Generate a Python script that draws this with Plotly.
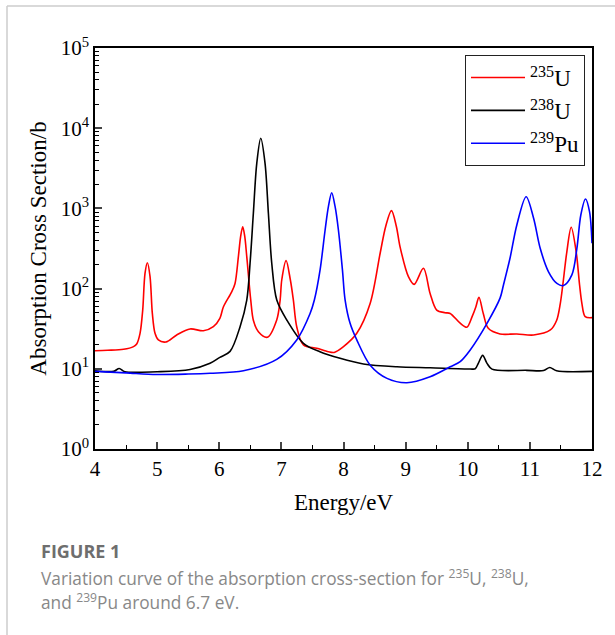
import plotly.graph_objects as go

# ---------------- data ----------------
u235_energy = [4.0, 4.2, 4.46, 4.62, 4.671, 4.725, 4.768, 4.805, 4.843, 4.886, 4.923, 4.966,
               5.02, 5.143, 5.315, 5.53, 5.744, 5.905, 6.01, 6.066, 6.2, 6.254, 6.308, 6.345,
               6.378, 6.41, 6.443, 6.507, 6.55, 6.63, 6.775, 6.925, 6.98, 7.006, 7.076,
               7.145, 7.193, 7.247, 7.355, 7.57, 7.757, 7.85, 8.0, 8.214, 8.43, 8.59, 8.68,
               8.772, 8.85, 8.91, 9.045, 9.137, 9.287, 9.394, 9.5, 9.636, 9.717, 9.878,
               9.985, 10.07, 10.13, 10.18, 10.25, 10.33, 10.52, 10.79, 11.06, 11.33, 11.43,
               11.49, 11.53, 11.595, 11.665, 11.745, 11.8, 11.837, 11.89, 12.0]
u235_sigma = [16.8, 17.0, 17.5, 18.9, 20.4, 27.7, 54, 155, 210, 141, 49, 27.7,
              22.9, 21.6, 26.4, 31.4, 29.8, 33.5, 42.6, 59, 91, 116, 250, 450,
              591, 450, 250, 72, 40, 29, 24.7, 40.6, 72, 128, 223,
              128, 72, 33.5, 19.8, 18, 16.3, 16.0, 18.9, 27.7, 65.6, 276, 600,
              937, 600, 333, 141, 113, 179, 87, 54, 50, 49, 37,
              33, 44.7, 59, 78, 49, 32, 27.2, 27.2, 26.4, 30.5, 40,
              65.6, 111, 288, 581, 288, 111, 65.6, 44.7, 43.4]

u238_energy = [4.0, 4.3, 4.39, 4.48, 5.0, 5.53, 5.852, 6.01, 6.174, 6.335, 6.443, 6.496,
               6.549, 6.604, 6.668, 6.737, 6.791, 6.845, 6.926, 7.087, 7.355, 7.62, 7.945,
               8.32, 8.86, 9.394, 10.04, 10.12, 10.17, 10.24, 10.31, 10.39, 10.95, 11.22,
               11.32, 11.43, 12.0]
u238_sigma = [9.47, 9.3, 10.1, 9.2, 9.2, 9.8, 11.7, 13.9, 16.5, 33.5, 72, 207,
              869, 3650, 7480, 3650, 869, 207, 72, 40.6, 20.8, 16.3, 13.5,
              11.5, 10.6, 10.3, 9.95, 10.0, 11.7, 14.7, 11.7, 9.9, 9.57, 9.5,
              10.4, 9.45, 9.3]

pu239_energy = [4.0, 4.5, 4.99, 5.5, 5.852, 6.39, 6.925, 7.247, 7.462, 7.531, 7.623, 7.704,
                7.757, 7.81, 7.865, 7.918, 7.983, 8.026, 8.106, 8.214, 8.43, 8.70, 9.02,
                9.394, 9.717, 9.878, 10.04, 10.31, 10.52, 10.575, 10.68, 10.79, 10.94,
                11.06, 11.166, 11.30, 11.435, 11.54, 11.676, 11.757, 11.82, 11.895,
                11.96, 12.0]
pu239_sigma = [9.3, 8.9, 8.5, 8.6, 8.8, 9.47, 13.1, 22.9, 49, 72, 171, 538,
               1050, 1570, 1050, 538, 171, 72, 36.9, 22.9, 11.1, 7.6, 6.71,
               7.97, 10.6, 12.3, 17.2, 36.9, 76, 111, 239, 621, 1400,
               753, 318, 162, 116, 109, 148, 318, 828, 1310,
               910, 367]

series_names = ["<sup>235</sup>U", "<sup>238</sup>U", "<sup>239</sup>Pu"]
series_colors = ["#ff0000", "#000000", "#0000ff"]

x_tick_vals = [4, 5, 6, 7, 8, 9, 10, 11, 12]
y_tick_vals = [1, 10, 100, 1000, 10000, 100000]
y_tick_text = ["10<sup>0</sup>", "10<sup>1</sup>", "10<sup>2</sup>",
               "10<sup>3</sup>", "10<sup>4</sup>", "10<sup>5</sup>"]
y_minor_vals = [m * 10 ** d for d in range(0, 5) for m in range(2, 10)]

# ---------------- figure ----------------
W, H = 615, 635
L, R, T, B = 95, 592, 48, 449


def px(x):
    return (x - L) / (R - L)


def py(y):
    return (B - y) / (B - T)


fig = go.Figure()
for xs, ys, name, col in zip([u235_energy, u238_energy, pu239_energy],
                             [u235_sigma, u238_sigma, pu239_sigma],
                             series_names, series_colors):
    fig.add_trace(go.Scatter(x=xs, y=ys, mode="lines", name=name,
                             line=dict(color=col, width=1.6, shape="spline", smoothing=0.9)))

serif = "Liberation Serif, Times New Roman, serif"
fig.update_layout(
    width=W, height=H,
    margin=dict(l=L, r=W - R, t=T, b=H - B),
    paper_bgcolor="white", plot_bgcolor="white",
    font=dict(family=serif, color="black", size=20),
    showlegend=True,
    legend=dict(x=px(465), y=py(55), xanchor="left", yanchor="top",
                bordercolor="#222", borderwidth=1, bgcolor="white",
                font=dict(family=serif, size=23), itemwidth=54,
                tracegroupgap=0),
    xaxis=dict(range=[4, 12], tickvals=x_tick_vals, ticks="inside", ticklen=7,
               tickwidth=1.5, showline=True, linecolor="black", linewidth=1.5,
               mirror=True, showgrid=False, zeroline=False,
               tickfont=dict(family=serif, size=21),
               minor=dict(dtick=0.5, ticks="inside", ticklen=4, tickwidth=1.2,
                          tickcolor="black", showgrid=False),
               title=dict(text="Energy/eV", font=dict(family=serif, size=23), standoff=14)),
    yaxis=dict(type="log", range=[0, 5], tickvals=y_tick_vals, ticktext=y_tick_text,
               ticks="inside", ticklen=7, tickwidth=1.5, showline=True,
               linecolor="black", linewidth=1.5, mirror=True, showgrid=False,
               zeroline=False, tickfont=dict(family=serif, size=21),
               minor=dict(tickvals=y_minor_vals, ticks="inside", ticklen=4,
                          tickwidth=1.2, tickcolor="black", showgrid=False),
               title=dict(text="Absorption Cross Section/b",
                          font=dict(family=serif, size=23), standoff=8)),
)

# outer frame lines of the figure panel
fig.add_shape(type="line", xref="paper", yref="paper", x0=px(7), x1=px(W), y0=py(6), y1=py(6),
              line=dict(color="#cccccc", width=1.5))
fig.add_shape(type="line", xref="paper", yref="paper", x0=px(7), x1=px(7), y0=py(6), y1=py(H),
              line=dict(color="#cccccc", width=1.5))

cap_font = "Open Sans, Noto Sans, sans-serif"
fig.add_annotation(xref="paper", yref="paper", x=px(39), y=py(551), xanchor="left",
                   yanchor="middle", showarrow=False, text="<b>FIGURE 1</b>",
                   font=dict(family=cap_font, size=18, color="#6e6e6e"))
fig.add_annotation(xref="paper", yref="paper", x=px(39), y=py(577), xanchor="left",
                   yanchor="middle", showarrow=False,
                   text="Variation curve of the absorption cross-section for "
                        "<sup>235</sup>U, <sup>238</sup>U,",
                   font=dict(family=cap_font, size=17.3, color="#888888"))
fig.add_annotation(xref="paper", yref="paper", x=px(39), y=py(601), xanchor="left",
                   yanchor="middle", showarrow=False,
                   text="and <sup>239</sup>Pu around 6.7 eV.",
                   font=dict(family=cap_font, size=17.3, color="#888888"))

fig.write_html("out.html", config={"displayModeBar": False},
               post_script="document.body.style.margin='0px';")
